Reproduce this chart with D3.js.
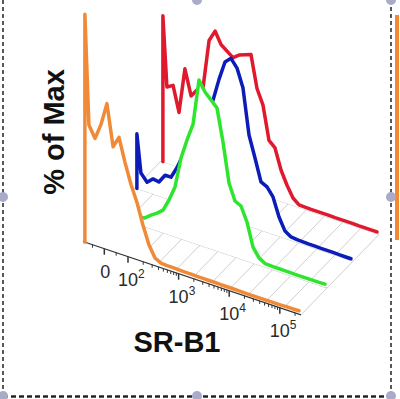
<!DOCTYPE html>
<html>
<head>
<meta charset="utf-8">
<script src="https://cdn.jsdelivr.net/npm/d3@7"></script>
<style>
  body { margin: 0; background: #fff; }
  svg { display: block; }
</style>
</head>
<body>
<svg id="chart" width="400" height="399"></svg>
<script>
// SR-B1 intensity at each histogram bin
const bins = [-82, -65, -39, -14, 11, 37, 62, 87, 115, 151, 198, 260, 342, 449, 590, 775,
  1018, 1338, 1758, 2310, 3035, 3988, 5241, 6885, 9049, 11890, 15620, 20530, 26970,
  35430, 46560, 61180, 80380, 105600, 138800, 182400, 239600];

// % of Max for each sample (front to back: orange, green, blue, red)
const orangeVals = [100, 52, 47, 54, 64, 46, 51, 41, 32, 25, 16, 8.2, 3.4, 2.0, 1.8, 1.8,
  1.7, 1.6, 1.6, 1.5, 1.5, 1.5, 1.5, 1.4, 1.4, 1.4, 1.4, 1.3, 1.3, 1.3, 1.3, 1.3, 1.3,
  1.3, 1.4, 1.4, 1.5];
const greenVals = [12, 5, 4, 4, 4, 3.4, 3.9, 6, 7.8, 10, 15.3, 21.9, 35.5, 44.3, 52, 72.4,
  68, 65.4, 62.7, 48.7, 31.6, 24.6, 23.3, 17.1, 7, 3.2, 1.6, 1.5, 1.4, 1.4, 1.4, 1.3,
  1.3, 1.3, 1.3, 1.3, 1.4];
const blueVals = [24, 7.4, 4.3, 6.6, 6.1, 10, 10, 15, 21.5, 29, 36, 41.7, 45.6, 50, 60, 68.5,
  71, 67.6, 59.7, 40, 30.8, 21.2, 19.9, 16.4, 8.5, 3.2, 1.5, 1.2, 1.1, 1, 1, 0.9, 0.9,
  0.9, 0.8, 0.8, 0.8];
const redVals = [64, 33.4, 35, 24, 44, 33, 36.5, 38, 60, 65, 60, 58, 56, 58, 59, 60,
  46, 39.6, 25, 22.6, 13.8, 8, 3.3, 1.2, 1.1, 1.0, 1, 1, 1, 0.9, 0.9, 0.9, 0.9, 0.8,
  0.8, 0.8, 0.8];

const majorTicks = [0, 100, 1000, 10000, 100000];
const majorLabels = ['0', '2', '3', '4', '5'];
const minorTicks = [-50, 50];
[100, 1000, 10000].forEach(d => {
  for (let m = 2; m <= 9; m++) minorTicks.push(m * d);
});
minorTicks.push(200000);

const svg = d3.select('#chart');

// biexponential-style axis: linear around zero, log above 10^2
const xLin = d3.scaleLinear().domain([-90, 100]).range([0, 45]);
const xLog = d3.scaleLog().domain([100, 262144]).range([45, 218]);
const xPos = v => (v < 100 ? xLin(v) : xLog(v));
const yScale = d3.scaleLinear().domain([0, 100]).range([0, 228]);

// 3D offset layout
const origin = { x: 83, y: 241.5 };
const step = { x: 26, y: -26.8 };
const tilt = 0.3364;
const axisLen = 218;

function project(layer, v, pct) {
  const p = xPos(v);
  return [origin.x + layer * step.x + p,
          origin.y + layer * step.y + p * tilt - yScale(pct)];
}
function floorPt(layer, p) {
  return [origin.x + layer * step.x + p, origin.y + layer * step.y + p * tilt];
}

// floor grid
const grid = svg.append('g')
  .attr('stroke', '#cfcfcf')
  .attr('stroke-width', 1)
  .attr('fill', 'none');

[1, 2, 3].forEach(l => {
  const a = floorPt(l, 0), b = floorPt(l, axisLen);
  grid.append('line').attr('x1', a[0]).attr('y1', a[1]).attr('x2', b[0]).attr('y2', b[1]);
});
d3.range(0, 13).forEach(k => {
  const p = k * axisLen / 12;
  const a = floorPt(0, p), b = floorPt(3, p);
  grid.append('line').attr('x1', a[0]).attr('y1', a[1]).attr('x2', b[0]).attr('y2', b[1]);
});

const layers = [
  { layer: 3, color: '#e01a2e', values: redVals },
  { layer: 2, color: '#0c1cb8', values: blueVals },
  { layer: 1, color: '#2ee52e', values: greenVals },
  { layer: 0, color: '#f08a36', values: orangeVals },
];

const line = d3.line();

function curvePoints(s) {
  const pts = [project(s.layer, bins[0], 0)];
  bins.forEach((b, i) => pts.push(project(s.layer, b, s.values[i])));
  return pts;
}

function drawFill(s) {
  const pts = curvePoints(s);
  pts.push(project(s.layer, bins[bins.length - 1], 0));
  svg.append('path')
    .attr('d', line(pts) + 'Z')
    .attr('fill', '#fff')
    .attr('stroke', 'none');
}
function drawStroke(s) {
  svg.append('path')
    .attr('d', line(curvePoints(s)))
    .attr('fill', 'none')
    .attr('stroke', s.color)
    .attr('stroke-width', 3.5)
    .attr('stroke-linejoin', 'round')
    .attr('stroke-linecap', 'round');
}

layers.slice(0, 3).forEach(s => { drawFill(s); drawStroke(s); });
drawFill(layers[3]);

// x axis along the front layer
const axisG = svg.append('g').attr('stroke', '#333');
const a0 = floorPt(0, 0), a1 = floorPt(0, axisLen);
axisG.append('line')
  .attr('x1', a0[0]).attr('y1', a0[1]).attr('x2', a1[0]).attr('y2', a1[1])
  .attr('stroke-width', 1.2);

axisG.selectAll('.minor')
  .data(minorTicks)
  .enter()
  .append('line')
  .attr('class', 'minor')
  .attr('x1', d => floorPt(0, xPos(d))[0])
  .attr('y1', d => floorPt(0, xPos(d))[1])
  .attr('x2', d => floorPt(0, xPos(d))[0])
  .attr('y2', d => floorPt(0, xPos(d))[1] + 3)
  .attr('stroke-width', 1);

axisG.selectAll('.major')
  .data(majorTicks)
  .enter()
  .append('line')
  .attr('class', 'major')
  .attr('x1', d => floorPt(0, xPos(d))[0])
  .attr('y1', d => floorPt(0, xPos(d))[1])
  .attr('x2', d => floorPt(0, xPos(d))[0])
  .attr('y2', d => floorPt(0, xPos(d))[1] + 6)
  .attr('stroke-width', 1.5);

drawStroke(layers[3]);

// tick labels
majorTicks.forEach((d, i) => {
  const [tx, ty] = floorPt(0, xPos(d));
  const t = svg.append('text')
    .attr('y', ty + 29)
    .style('font-family', 'Liberation Sans, Arial, sans-serif')
    .style('font-size', '18px')
    .style('fill', '#2a2a2a');
  if (d === 0) {
    t.attr('x', tx + 1).attr('text-anchor', 'middle').text('0');
  } else {
    t.attr('x', tx - 10);
    t.append('tspan').text('10');
    t.append('tspan').attr('dy', -8).style('font-size', '12px').text(majorLabels[i]);
  }
});

// axis titles
svg.append('text')
  .attr('transform', 'translate(64,132) rotate(-90)')
  .attr('text-anchor', 'middle')
  .style('font-family', 'Liberation Sans, Arial, sans-serif')
  .style('font-weight', 'bold')
  .style('font-size', '29px')
  .style('fill', '#111')
  .text('% of Max');

svg.append('text')
  .attr('x', 177)
  .attr('y', 352)
  .attr('text-anchor', 'middle')
  .style('font-family', 'Liberation Sans, Arial, sans-serif')
  .style('font-weight', 'bold')
  .style('font-size', '29px')
  .style('fill', '#111')
  .text('SR-B1');

// neighbouring panel edge
svg.append('line')
  .attr('x1', 397).attr('y1', 15).attr('x2', 397).attr('y2', 240)
  .attr('stroke', '#f08a36').attr('stroke-width', 4);

// selection frame
const frame = svg.append('g').attr('stroke', '#222').attr('fill', 'none');
frame.append('line').attr('x1', 3).attr('y1', 0).attr('x2', 3).attr('y2', 396)
  .attr('stroke-width', 1.5).attr('stroke-dasharray', '4,3');
frame.append('line').attr('x1', 391).attr('y1', 0).attr('x2', 391).attr('y2', 396)
  .attr('stroke-width', 1.5).attr('stroke-dasharray', '4,3');
frame.append('line').attr('x1', 3).attr('y1', 396.5).attr('x2', 391).attr('y2', 396.5)
  .attr('stroke-width', 2.5).attr('stroke-dasharray', '5,3');

const handles = [[197, 0], [391, 0], [3, 197], [391, 197], [3, 396], [197, 396], [391, 396]];
svg.selectAll('.handle')
  .data(handles)
  .enter()
  .append('circle')
  .attr('class', 'handle')
  .attr('cx', d => d[0])
  .attr('cy', d => d[1])
  .attr('r', 5)
  .attr('fill', '#a9abc8');
</script>
</body>
</html>
